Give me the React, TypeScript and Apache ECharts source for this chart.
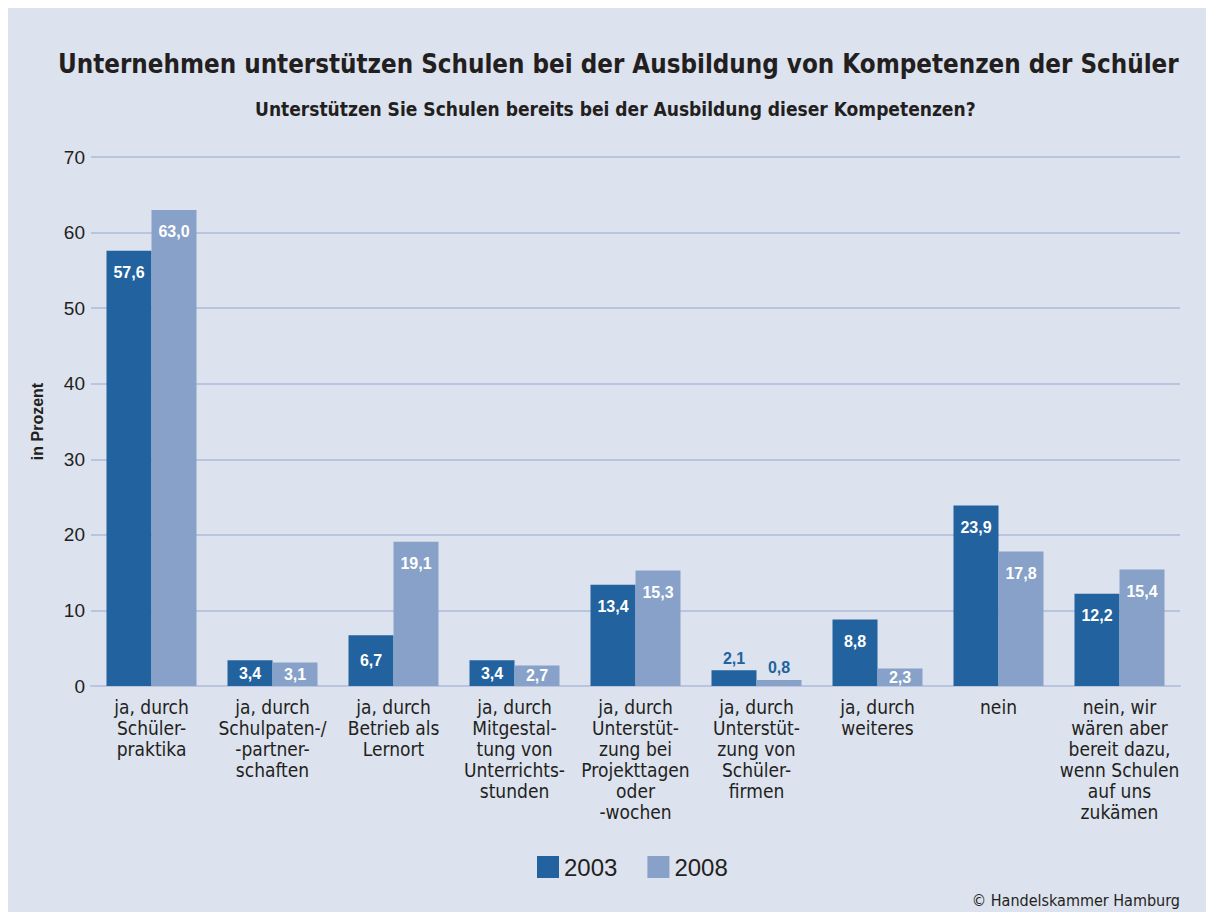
import React, { useEffect, useRef } from "react";
import * as echarts from "echarts";

const categories = [
  "ja, durch\nSchüler-\npraktika",
  "ja, durch\nSchulpaten-/\n-partner-\nschaften",
  "ja, durch\nBetrieb als\nLernort",
  "ja, durch\nMitgestal-\ntung von\nUnterrichts-\nstunden",
  "ja, durch\nUnterstüt-\nzung bei\nProjekttagen\noder\n-wochen",
  "ja, durch\nUnterstüt-\nzung von\nSchüler-\nfirmen",
  "ja, durch\nweiteres",
  "nein",
  "nein, wir\nwären aber\nbereit dazu,\nwenn Schulen\nauf uns\nzukämen",
];
const values2003 = [57.6, 3.4, 6.7, 3.4, 13.4, 2.1, 8.8, 23.9, 12.2];
const values2008 = [63.0, 3.1, 19.1, 2.7, 15.3, 0.8, 2.3, 17.8, 15.4];
const yTicks = { min: 0, max: 70, interval: 10 };

const DARK = "#22629e";
const LIGHT = "#87a1c9";
const BG = "#dce2ee";
const TEXT = "#231f20";
const COND = "'DejaVu Sans Condensed', 'Noto Sans', sans-serif";
const SANS = "'Liberation Sans', Arial, sans-serif";

const fmt = (v: number) => v.toFixed(1).replace(".", ",");

function dataWithLabels(vals: number[]) {
  return vals.map((v) => {
    let label: any;
    if (v < 2.2) {
      label = { position: "top", distance: 4, color: DARK };
    } else if (v < 7) {
      label = { position: "inside", color: "#ffffff" };
    } else {
      label = { position: "insideTop", distance: 14, color: "#ffffff" };
    }
    return { value: v, label };
  });
}

export default function App() {
  const ref = useRef<HTMLDivElement>(null);
  useEffect(() => {
    document.body.style.margin = "0";
    document.body.style.overflow = "hidden";
    if (!ref.current) return;
    const chart = echarts.init(ref.current, undefined, { renderer: "svg" });
    const labelBase = {
      show: true,
      fontFamily: SANS,
      fontWeight: "bold" as const,
      fontSize: 16,
      formatter: (p: any) => fmt(p.value),
    };
    chart.setOption({
      animation: false,
      backgroundColor: BG,
      title: [
        {
          text: "Unternehmen unterstützen Schulen bei der Ausbildung von Kompetenzen der Schüler",
          left: 45,
          top: 38,
          textStyle: { fontFamily: COND, fontWeight: "bold", fontSize: 25.7, color: TEXT },
        },
        {
          text: "Unterstützen Sie Schulen bereits bei der Ausbildung dieser Kompetenzen?",
          left: 242,
          top: 86,
          textStyle: { fontFamily: COND, fontWeight: "bold", fontSize: 19, color: TEXT },
        },
        {
          text: "© Handelskammer Hamburg",
          right: 21,
          top: 879,
          textStyle: { fontFamily: COND, fontWeight: "normal", fontSize: 16, color: TEXT },
        },
      ],
      legend: {
        data: ["2003", "2008"],
        left: 524,
        top: 842,
        itemWidth: 22,
        itemHeight: 22,
        itemGap: 30,
        icon: "rect",
        textStyle: { fontFamily: SANS, fontSize: 24, color: TEXT },
      },
      grid: { left: 83, right: 26, top: 149, bottom: 226, containLabel: false },
      xAxis: {
        type: "category",
        data: categories,
        axisLine: { show: true, lineStyle: { color: "#b9c5de", width: 2 } },
        axisTick: { show: false },
        axisLabel: {
          interval: 0,
          margin: 10,
          fontFamily: COND,
          fontSize: 19,
          lineHeight: 21,
          color: TEXT,
          align: "center",
        },
      },
      yAxis: {
        type: "value",
        min: yTicks.min,
        max: yTicks.max,
        interval: yTicks.interval,
        name: "in Prozent",
        nameLocation: "middle",
        nameGap: 46,
        nameTextStyle: { fontFamily: SANS, fontWeight: "bold", fontSize: 16, color: TEXT },
        axisLine: { show: false },
        axisTick: { show: false },
        axisLabel: { fontFamily: SANS, fontSize: 19, color: TEXT, margin: 6 },
        splitLine: { lineStyle: { color: "#b9c5de", width: 2 } },
      },
      series: [
        {
          name: "2003",
          type: "bar",
          data: dataWithLabels(values2003),
          itemStyle: { color: DARK },
          barWidth: 45,
          barGap: "0%",
          label: labelBase,
        },
        {
          name: "2008",
          type: "bar",
          data: dataWithLabels(values2008),
          itemStyle: { color: LIGHT },
          barWidth: 45,
          barGap: "0%",
          label: labelBase,
        },
      ],
    });
    return () => chart.dispose();
  }, []);
  return (
    <div style={{ width: 1206, height: 912, background: "#ffffff", paddingTop: 8, paddingLeft: 8, boxSizing: "border-box" }}>
      <div ref={ref} style={{ width: 1198, height: 904 }} />
    </div>
  );
}
